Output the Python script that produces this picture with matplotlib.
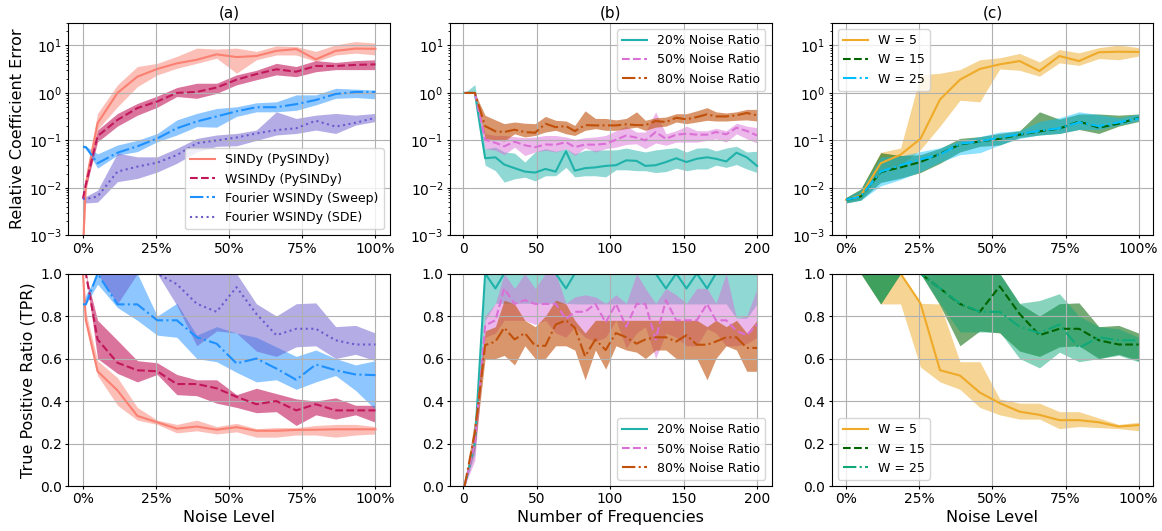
import matplotlib
matplotlib.use("Agg")
import matplotlib.pyplot as plt
from matplotlib.ticker import PercentFormatter

# x values
noise = [0.0, 0.01, 0.05, 0.118, 0.186, 0.254, 0.321, 0.389, 0.457, 0.525, 0.593,
         0.661, 0.729, 0.796, 0.864, 0.932, 1.0]
noise_c = [0.0, 0.05, 0.118, 0.186, 0.254, 0.321, 0.389, 0.457, 0.525, 0.593,
           0.661, 0.729, 0.796, 0.864, 0.932, 1.0]
freqs = [1, 8, 15, 22, 28, 35, 42, 49, 56, 63, 70, 76, 83, 90, 97, 104, 111, 118,
         124, 131, 138, 145, 152, 159, 166, 172, 179, 186, 193, 200]

# (a) relative coefficient error
sindy_err = [5e-4, 0.012, 0.23, 1.0, 2.2, 3.2, 4.2, 5.0, 6.5, 5.7, 6.0, 7.7, 8.4, 5.1, 7.7, 8.6, 8.5]
sindy_err_lo = [3e-4, 0.008, 0.17, 0.51, 1.36, 2.4, 3.3, 4.2, 5.4, 2.6, 5.0, 6.3, 6.3, 4.6, 6.3, 6.9, 6.3]
sindy_err_hi = [1e-3, 0.02, 0.37, 1.48, 3.6, 4.2, 5.9, 8.8, 8.4, 8.8, 7.5, 9.8, 9.5, 7.5, 10.3, 12.1, 11.2]
wsindy_err = [0.0059, 0.012, 0.123, 0.27, 0.48, 0.66, 1.0, 1.05, 1.3, 1.9, 2.5, 3.15, 2.8, 3.7, 3.7, 3.9, 4.0]
wsindy_err_lo = [0.005, 0.01, 0.093, 0.2, 0.34, 0.5, 0.84, 0.77, 0.98, 1.48, 1.9, 2.4, 2.2, 2.8, 3.1, 3.1, 3.1]
wsindy_err_hi = [0.0068, 0.015, 0.166, 0.37, 0.6, 0.86, 1.3, 1.6, 1.6, 2.4, 3.0, 4.2, 3.6, 4.8, 4.4, 4.8, 5.0]
sweep_err = [0.074, 0.072, 0.033, 0.055, 0.075, 0.11, 0.18, 0.25, 0.32, 0.41, 0.5, 0.5, 0.58, 0.71, 0.95, 1.05, 1.05]
sweep_err_lo = [0.07, 0.068, 0.026, 0.049, 0.058, 0.094, 0.13, 0.195, 0.19, 0.32, 0.4, 0.4, 0.43, 0.56, 0.77, 0.8, 0.75]
sweep_err_hi = [0.078, 0.076, 0.052, 0.08, 0.1, 0.14, 0.27, 0.37, 0.47, 0.51, 0.62, 0.65, 0.91, 0.91, 1.25, 1.2, 1.15]
sde_err = [0.0059, 0.0058, 0.0066, 0.022, 0.028, 0.034, 0.049, 0.087, 0.1, 0.115, 0.14, 0.165, 0.18, 0.26, 0.195, 0.235, 0.3]
sde_err_lo = [0.0048, 0.0048, 0.005, 0.0135, 0.0158, 0.0215, 0.033, 0.057, 0.075, 0.077, 0.1, 0.13, 0.14, 0.165, 0.14, 0.21, 0.25]
sde_err_hi = [0.0065, 0.0066, 0.0089, 0.054, 0.045, 0.045, 0.068, 0.11, 0.13, 0.14, 0.165, 0.4, 0.29, 0.34, 0.37, 0.34, 0.37]

# (a) true positive ratio
sindy_tpr = [1.0, 0.78, 0.54, 0.45, 0.33, 0.30, 0.27, 0.28, 0.265, 0.277, 0.26, 0.26, 0.264, 0.265, 0.267, 0.267, 0.267]
sindy_tpr_lo = [1.0, 0.76, 0.52, 0.38, 0.31, 0.29, 0.25, 0.26, 0.245, 0.255, 0.23, 0.23, 0.24, 0.24, 0.23, 0.24, 0.245]
sindy_tpr_hi = [1.0, 0.82, 0.59, 0.51, 0.37, 0.31, 0.29, 0.31, 0.28, 0.295, 0.27, 0.275, 0.275, 0.285, 0.29, 0.29, 0.28]
wsindy_tpr = [1.0, 1.0, 0.69, 0.58, 0.545, 0.54, 0.48, 0.48, 0.46, 0.42, 0.385, 0.40, 0.356, 0.385, 0.356, 0.356, 0.356]
wsindy_tpr_lo = [1.0, 1.0, 0.6, 0.53, 0.49, 0.525, 0.43, 0.425, 0.39, 0.37, 0.345, 0.35, 0.285, 0.335, 0.315, 0.335, 0.3]
wsindy_tpr_hi = [1.0, 1.0, 0.78, 0.686, 0.59, 0.58, 0.525, 0.5, 0.5, 0.43, 0.46, 0.435, 0.41, 0.4, 0.415, 0.38, 0.38]
sweep_tpr = [0.855, 0.855, 1.0, 0.855, 0.855, 0.78, 0.78, 0.70, 0.67, 0.577, 0.6, 0.553, 0.5, 0.572, 0.545, 0.525, 0.522]
sweep_tpr_lo = [0.855, 0.855, 0.95, 0.84, 0.78, 0.71, 0.70, 0.6, 0.585, 0.535, 0.49, 0.5, 0.455, 0.49, 0.52, 0.45, 0.36]
sweep_tpr_hi = [0.855, 0.9, 1.0, 1.0, 1.0, 0.8, 0.86, 0.71, 0.75, 0.72, 0.70, 0.655, 0.61, 0.64, 0.6, 0.57, 0.59]
sde_tpr = [1.0, 1.0, 1.0, 1.0, 1.0, 1.0, 0.95, 0.858, 0.82, 0.936, 0.81, 0.71, 0.74, 0.74, 0.686, 0.666, 0.666]
sde_tpr_lo = [1.0, 1.0, 1.0, 0.857, 1.0, 1.0, 0.85, 0.66, 0.73, 0.72, 0.635, 0.61, 0.655, 0.66, 0.6, 0.62, 0.59]
sde_tpr_hi = [1.0, 1.0, 1.0, 1.0, 1.0, 1.0, 1.0, 1.0, 1.0, 1.0, 0.858, 0.8, 0.858, 0.862, 0.75, 0.756, 0.72]

# (b) error vs number of frequencies
err20 = [1.0, 1.0, 0.042, 0.044, 0.031, 0.026, 0.022, 0.021, 0.025, 0.022, 0.059, 0.023, 0.026, 0.027, 0.029,
         0.03, 0.038, 0.037, 0.029, 0.03, 0.035, 0.042, 0.035, 0.041, 0.044, 0.041, 0.036, 0.055, 0.044, 0.029]
err20_lo = [1.0, 1.0, 0.03, 0.023, 0.0132, 0.0155, 0.0168, 0.014, 0.018, 0.018, 0.027, 0.017, 0.018, 0.018, 0.017,
            0.024, 0.024, 0.023, 0.023, 0.021, 0.022, 0.026, 0.023, 0.025, 0.025, 0.03, 0.027, 0.031, 0.025, 0.021]
err20_hi = [1.0, 1.5, 0.067, 0.072, 0.057, 0.054, 0.035, 0.057, 0.067, 0.059, 0.067, 0.052, 0.062, 0.062, 0.063,
            0.063, 0.069, 0.062, 0.057, 0.063, 0.067, 0.07, 0.057, 0.069, 0.07, 0.06, 0.069, 0.075, 0.057, 0.059]
err50 = [1.0, 1.0, 0.103, 0.089, 0.075, 0.094, 0.079, 0.072, 0.082, 0.081, 0.092, 0.072, 0.082, 0.081, 0.085,
         0.103, 0.127, 0.114, 0.1, 0.15, 0.108, 0.132, 0.138, 0.132, 0.132, 0.15, 0.134, 0.185, 0.158, 0.127]
err50_lo = [1.0, 1.0, 0.067, 0.062, 0.05, 0.072, 0.048, 0.057, 0.062, 0.057, 0.067, 0.048, 0.07, 0.057, 0.067,
            0.072, 0.082, 0.085, 0.067, 0.088, 0.079, 0.092, 0.092, 0.092, 0.1, 0.108, 0.092, 0.138, 0.108, 0.088]
err50_hi = [1.0, 1.0, 0.138, 0.127, 0.127, 0.12, 0.114, 0.118, 0.127, 0.127, 0.118, 0.105, 0.114, 0.118, 0.127,
            0.16, 0.2, 0.15, 0.15, 0.4, 0.138, 0.16, 0.2, 0.16, 0.16, 0.18, 0.16, 0.23, 0.2, 0.185]
err80 = [1.0, 1.0, 0.2, 0.155, 0.15, 0.168, 0.15, 0.145, 0.225, 0.19, 0.2, 0.157, 0.21, 0.207, 0.207,
         0.207, 0.218, 0.21, 0.21, 0.256, 0.244, 0.3, 0.278, 0.31, 0.355, 0.32, 0.32, 0.338, 0.378, 0.338]
err80_lo = [1.0, 1.0, 0.108, 0.103, 0.097, 0.138, 0.118, 0.127, 0.15, 0.163, 0.138, 0.127, 0.163, 0.177, 0.163,
            0.163, 0.177, 0.19, 0.163, 0.19, 0.2, 0.244, 0.225, 0.244, 0.265, 0.256, 0.256, 0.265, 0.27, 0.256]
err80_hi = [1.0, 1.0, 0.338, 0.27, 0.225, 0.244, 0.23, 0.225, 0.32, 0.265, 0.256, 0.207, 0.42, 0.29, 0.29,
            0.27, 0.29, 0.4, 0.265, 0.3, 0.31, 0.365, 0.365, 0.42, 0.49, 0.4, 0.378, 0.4, 0.45, 0.45]

# (b) TPR vs number of frequencies
tpr20 = [0.0, 0.2, 1.0, 0.93, 1.0, 1.0, 1.0, 1.0, 1.0, 1.0, 0.93, 1.0, 1.0, 1.0, 1.0,
         1.0, 1.0, 1.0, 1.0, 1.0, 0.93, 1.0, 0.93, 1.0, 0.93, 1.0, 1.0, 1.0, 1.0, 1.0]
tpr20_lo = [0.0, 0.15, 0.78, 0.86, 0.86, 0.86, 0.86, 0.86, 0.86, 0.86, 0.86, 0.857, 0.857, 0.857, 0.857,
            0.857, 0.857, 0.857, 0.857, 0.857, 0.857, 0.857, 0.857, 0.857, 0.857, 0.857, 0.857, 0.79, 0.79, 0.857]
tpr20_hi = [0.0, 0.25, 1.0, 1.0, 1.0, 1.0, 1.0, 1.0, 1.0, 1.0, 1.0, 1.0, 1.0, 1.0, 1.0,
            1.0, 1.0, 1.0, 1.0, 1.0, 1.0, 1.0, 1.0, 1.0, 1.0, 1.0, 1.0, 1.0, 1.0, 1.0]
tpr50 = [0.0, 0.2, 0.756, 0.78, 0.93, 0.857, 0.875, 0.857, 0.857, 0.857, 0.786, 0.82, 0.82, 0.857, 0.77,
         0.857, 0.75, 0.857, 0.857, 0.69, 0.875, 0.78, 0.78, 0.78, 0.857, 0.78, 0.78, 0.73, 0.71, 0.76]
tpr50_lo = [0.0, 0.12, 0.7, 0.72, 0.78, 0.78, 0.78, 0.76, 0.78, 0.72, 0.7, 0.75, 0.7, 0.68, 0.7,
            0.78, 0.65, 0.72, 0.75, 0.6, 0.72, 0.7, 0.66, 0.66, 0.74, 0.72, 0.66, 0.66, 0.67, 0.7]
tpr50_hi = [0.0, 0.28, 0.8, 0.86, 1.0, 0.93, 1.0, 0.93, 1.0, 1.0, 0.86, 0.89, 0.9, 0.89, 0.86,
            0.9, 0.86, 1.0, 0.93, 0.86, 0.93, 0.9, 0.86, 0.93, 0.93, 0.86, 1.0, 0.79, 0.8, 0.93]
tpr80 = [0.0, 0.25, 0.663, 0.68, 0.745, 0.69, 0.72, 0.66, 0.66, 0.76, 0.78, 0.745, 0.61, 0.69, 0.64,
         0.72, 0.70, 0.67, 0.69, 0.70, 0.70, 0.68, 0.71, 0.665, 0.665, 0.68, 0.70, 0.70, 0.65, 0.65]
tpr80_lo = [0.0, 0.18, 0.6, 0.6, 0.615, 0.57, 0.66, 0.6, 0.6, 0.66, 0.66, 0.64, 0.5, 0.64, 0.55,
            0.66, 0.64, 0.63, 0.6, 0.64, 0.64, 0.6, 0.6, 0.6, 0.5, 0.6, 0.66, 0.64, 0.54, 0.54]
tpr80_hi = [0.0, 0.32, 0.73, 0.75, 0.875, 0.857, 0.78, 0.75, 0.8, 0.875, 0.857, 0.78, 0.72, 0.78, 0.78,
            0.78, 0.78, 0.78, 0.78, 0.78, 0.78, 0.78, 0.78, 0.78, 0.75, 0.78, 0.75, 0.78, 0.72, 0.78]

# (c) window size
w5_err = [0.0056, 0.0069, 0.033, 0.05, 0.108, 0.73, 1.9, 3.2, 4.0, 4.7, 2.9, 6.0, 4.7, 7.2, 7.4, 7.3]
w5_err_lo = [0.005, 0.0058, 0.02, 0.03, 0.064, 0.2, 0.7, 0.65, 3.2, 3.0, 2.25, 4.3, 3.8, 5.3, 5.0, 6.0]
w5_err_hi = [0.0063, 0.009, 0.056, 0.069, 2.4, 2.6, 3.1, 5.0, 5.5, 6.8, 4.5, 8.2, 7.0, 9.0, 10.2, 9.0]
w15_err = [0.0056, 0.0066, 0.0215, 0.027, 0.035, 0.052, 0.082, 0.095, 0.108, 0.132, 0.155, 0.177, 0.25, 0.185, 0.225, 0.3]
w15_err_lo = [0.0048, 0.0055, 0.013, 0.016, 0.021, 0.033, 0.057, 0.075, 0.08, 0.115, 0.13, 0.14, 0.17, 0.14, 0.2, 0.25]
w15_err_hi = [0.0063, 0.0095, 0.055, 0.048, 0.05, 0.068, 0.11, 0.12, 0.14, 0.16, 0.4, 0.28, 0.36, 0.36, 0.34, 0.36]
w25_err = [0.0056, 0.0066, 0.022, 0.03, 0.04, 0.05, 0.085, 0.095, 0.115, 0.135, 0.16, 0.18, 0.24, 0.2, 0.24, 0.29]
w25_err_lo = [0.0048, 0.0055, 0.011, 0.015, 0.022, 0.035, 0.05, 0.055, 0.08, 0.11, 0.13, 0.14, 0.17, 0.17, 0.21, 0.26]
w25_err_hi = [0.0063, 0.009, 0.045, 0.047, 0.058, 0.07, 0.1, 0.12, 0.15, 0.16, 0.25, 0.3, 0.4, 0.35, 0.3, 0.36]

w5_tpr = [1.0, 1.0, 1.0, 1.0, 0.86, 0.545, 0.52, 0.44, 0.39, 0.35, 0.335, 0.31, 0.31, 0.3, 0.28, 0.287]
w5_tpr_lo = [1.0, 1.0, 0.857, 0.857, 0.56, 0.49, 0.455, 0.37, 0.335, 0.315, 0.315, 0.27, 0.28, 0.275, 0.27, 0.26]
w5_tpr_hi = [1.0, 1.0, 1.0, 1.0, 0.86, 0.857, 0.585, 0.585, 0.41, 0.39, 0.39, 0.35, 0.35, 0.32, 0.29, 0.3]
w15_tpr = [1.0, 1.0, 1.0, 1.0, 1.0, 0.93, 0.857, 0.82, 0.94, 0.81, 0.71, 0.74, 0.74, 0.686, 0.666, 0.666]
w15_tpr_lo = [1.0, 1.0, 0.857, 1.0, 1.0, 0.85, 0.66, 0.73, 0.72, 0.635, 0.61, 0.655, 0.66, 0.6, 0.62, 0.59]
w15_tpr_hi = [1.0, 1.0, 1.0, 1.0, 1.0, 1.0, 1.0, 1.0, 1.0, 0.858, 0.8, 0.858, 0.862, 0.75, 0.756, 0.72]
w25_tpr = [1.0, 1.0, 1.0, 1.0, 1.0, 0.93, 0.86, 0.82, 0.82, 0.75, 0.72, 0.76, 0.65, 0.70, 0.686, 0.686]
w25_tpr_lo = [1.0, 1.0, 0.857, 1.0, 1.0, 0.857, 0.725, 0.725, 0.725, 0.6, 0.556, 0.63, 0.585, 0.6, 0.615, 0.585]
w25_tpr_hi = [1.0, 1.0, 1.0, 1.0, 1.0, 1.0, 1.0, 1.0, 1.0, 0.86, 0.873, 0.905, 0.8, 0.75, 0.74, 0.7]


def band(ax, x, y, lo, hi, color, ls, label, alpha=0.5):
    ax.fill_between(x, lo, hi, color=color, alpha=alpha, lw=0)
    ax.plot(x, y, color=color, ls=ls, lw=1.5, label=label)


plt.rcParams['font.size'] = 10
fig, axes = plt.subplots(2, 3, figsize=(11.62, 5.31), dpi=100)
fig.subplots_adjust(left=0.0588, right=0.9925, top=0.957, bottom=0.0847, wspace=0.186, hspace=0.18)

c_sindy, c_wsindy, c_sweep, c_sde = '#fa8072', '#c2185b', '#1e90ff', '#6a5acd'
c20, c50, c80 = '#20b2aa', '#da70d6', '#c0500a'
c5, c15, c25top, c25bot = '#eeaa28', '#006400', '#00bfff', '#10a878'

# (a)
ax = axes[0, 0]
band(ax, noise, sindy_err, sindy_err_lo, sindy_err_hi, c_sindy, '-', 'SINDy (PySINDy)')
band(ax, noise, wsindy_err, wsindy_err_lo, wsindy_err_hi, c_wsindy, '--', 'WSINDy (PySINDy)', 0.6)
band(ax, noise, sweep_err, sweep_err_lo, sweep_err_hi, c_sweep, '-.', 'Fourier WSINDy (Sweep)')
band(ax, noise, sde_err, sde_err_lo, sde_err_hi, c_sde, ':', 'Fourier WSINDy (SDE)')
ax.legend(loc='lower right', fontsize=9)

ax = axes[1, 0]
band(ax, noise, sindy_tpr, sindy_tpr_lo, sindy_tpr_hi, c_sindy, '-', 'SINDy (PySINDy)')
band(ax, noise, wsindy_tpr, wsindy_tpr_lo, wsindy_tpr_hi, c_wsindy, '--', 'WSINDy (PySINDy)', 0.6)
band(ax, noise, sweep_tpr, sweep_tpr_lo, sweep_tpr_hi, c_sweep, '-.', 'Fourier WSINDy (Sweep)')
band(ax, noise, sde_tpr, sde_tpr_lo, sde_tpr_hi, c_sde, ':', 'Fourier WSINDy (SDE)')

# (b)
ax = axes[0, 1]
band(ax, freqs, err20, err20_lo, err20_hi, c20, '-', '20% Noise Ratio')
band(ax, freqs, err50, err50_lo, err50_hi, c50, '--', '50% Noise Ratio')
band(ax, freqs, err80, err80_lo, err80_hi, c80, '-.', '80% Noise Ratio', 0.6)
ax.legend(loc='upper right', fontsize=9)

ax = axes[1, 1]
band(ax, freqs, tpr20, tpr20_lo, tpr20_hi, c20, '-', '20% Noise Ratio')
band(ax, freqs, tpr50, tpr50_lo, tpr50_hi, c50, '--', '50% Noise Ratio')
band(ax, freqs, tpr80, tpr80_lo, tpr80_hi, c80, '-.', '80% Noise Ratio', 0.6)
ax.legend(loc='lower right', fontsize=9)

# (c)
ax = axes[0, 2]
band(ax, noise_c, w5_err, w5_err_lo, w5_err_hi, c5, '-', 'W = 5')
band(ax, noise_c, w15_err, w15_err_lo, w15_err_hi, c15, '--', 'W = 15', 0.55)
band(ax, noise_c, w25_err, w25_err_lo, w25_err_hi, c25top, '-.', 'W = 25', 0.45)
ax.legend(loc='upper left', fontsize=9)

ax = axes[1, 2]
band(ax, noise_c, w5_tpr, w5_tpr_lo, w5_tpr_hi, c5, '-', 'W = 5')
band(ax, noise_c, w15_tpr, w15_tpr_lo, w15_tpr_hi, c15, '--', 'W = 15', 0.55)
band(ax, noise_c, w25_tpr, w25_tpr_lo, w25_tpr_hi, c25bot, '-.', 'W = 25')
ax.legend(loc='lower left', fontsize=9)

for j, t in enumerate(['(a)', '(b)', '(c)']):
    axes[0, j].set_title(t, fontsize=11, pad=4)
for ax in axes[0]:
    ax.set_yscale('log')
    ax.set_ylim(1e-3, 30)
for ax in axes[1]:
    ax.set_ylim(0, 1)
for ax in axes.flat:
    ax.grid(True)
    ax.tick_params(axis='both', which='major', length=2.5, pad=2)
    ax.tick_params(axis='both', which='minor', length=1.5)
for ax in [axes[0, 0], axes[1, 0], axes[0, 2], axes[1, 2]]:
    ax.xaxis.set_major_formatter(PercentFormatter(xmax=1, decimals=0))
    ax.set_xticks([0, 0.25, 0.5, 0.75, 1.0])
axes[0, 0].set_ylabel('Relative Coefficient Error', fontsize=11.5, labelpad=3)
axes[1, 0].set_ylabel('True Positive Ratio (TPR)', fontsize=11.5, labelpad=3)
axes[1, 0].set_xlabel('Noise Level', fontsize=11.5, labelpad=3)
axes[1, 1].set_xlabel('Number of Frequencies', fontsize=11.5, labelpad=3)
axes[1, 2].set_xlabel('Noise Level', fontsize=11.5, labelpad=3)

fig.savefig('out.png', dpi=100)
